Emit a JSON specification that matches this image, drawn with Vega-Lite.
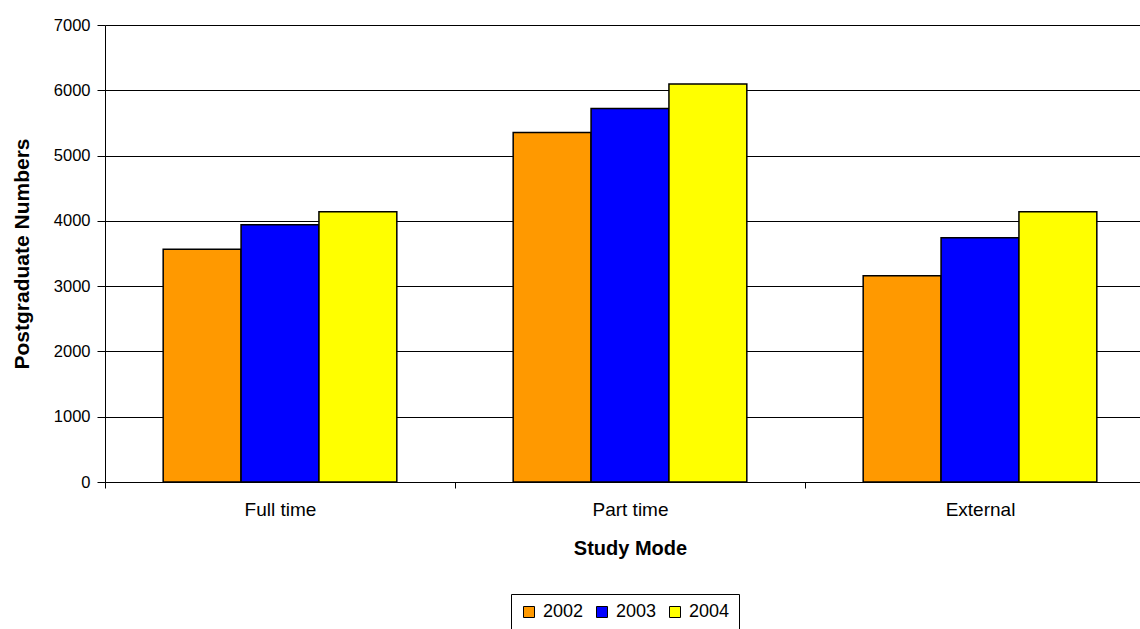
{
  "$schema": "https://vega.github.io/schema/vega-lite/v6.json",
  "width": 1035,
  "height": 457,
  "autosize": "none",
  "padding": {"left": 105, "top": 25, "right": 0, "bottom": 147},
  "background": "white",
  "config": {
    "font": "Liberation Sans",
    "view": {"stroke": null},
    "axis": {"labelColor": "black", "titleColor": "black", "domainColor": "black", "tickColor": "black"}
  },
  "data": {
    "values": [
      {"mode": "Full time", "year": "2002", "value": 3565},
      {"mode": "Full time", "year": "2003", "value": 3940},
      {"mode": "Full time", "year": "2004", "value": 4140},
      {"mode": "Part time", "year": "2002", "value": 5355},
      {"mode": "Part time", "year": "2003", "value": 5720},
      {"mode": "Part time", "year": "2004", "value": 6095},
      {"mode": "External", "year": "2002", "value": 3160},
      {"mode": "External", "year": "2003", "value": 3740},
      {"mode": "External", "year": "2004", "value": 4140}
    ]
  },
  "mark": {"type": "bar", "stroke": "black", "strokeWidth": 1.5},
  "encoding": {
    "x": {
      "field": "mode",
      "type": "nominal",
      "sort": ["Full time", "Part time", "External"],
      "scale": {"paddingInner": 0, "paddingOuter": 0, "range": [0, 1050]},
      "axis": {
        "title": "Study Mode",
        "titleFontSize": 20,
        "titleFontWeight": "bold",
        "titlePadding": 19,
        "labelAngle": 0,
        "labelFontSize": 19,
        "labelPadding": 12,
        "tickBand": "extent",
        "tickSize": 6
      }
    },
    "xOffset": {"field": "year", "type": "nominal", "scale": {"paddingInner": 0, "paddingOuter": 0.747}},
    "y": {
      "field": "value",
      "type": "quantitative",
      "scale": {"domain": [0, 7000], "nice": false},
      "axis": {
        "title": "Postgraduate Numbers",
        "titleFontSize": 21,
        "titleFontWeight": "bold",
        "titlePadding": 21,
        "values": [0, 1000, 2000, 3000, 4000, 5000, 6000, 7000],
        "format": "d",
        "labelFontSize": 16.5,
        "labelPadding": 7,
        "tickSize": 8,
        "grid": true,
        "gridColor": "black",
        "gridWidth": 1
      }
    },
    "color": {
      "field": "year",
      "type": "nominal",
      "scale": {"domain": ["2002", "2003", "2004"], "range": ["#FF9900", "#0000FF", "#FFFF00"]},
      "legend": {
        "title": null,
        "orient": "none",
        "legendX": 406,
        "legendY": 569,
        "direction": "horizontal",
        "symbolType": "square",
        "symbolSize": 121,
        "symbolStrokeColor": "black",
        "symbolStrokeWidth": 1,
        "symbolOpacity": 1,
        "labelFontSize": 18,
        "labelColor": "black",
        "labelOffset": 5,
        "columnPadding": 9,
        "strokeColor": "black",
        "padding": 9,
        "fillColor": "white"
      }
    }
  }
}
